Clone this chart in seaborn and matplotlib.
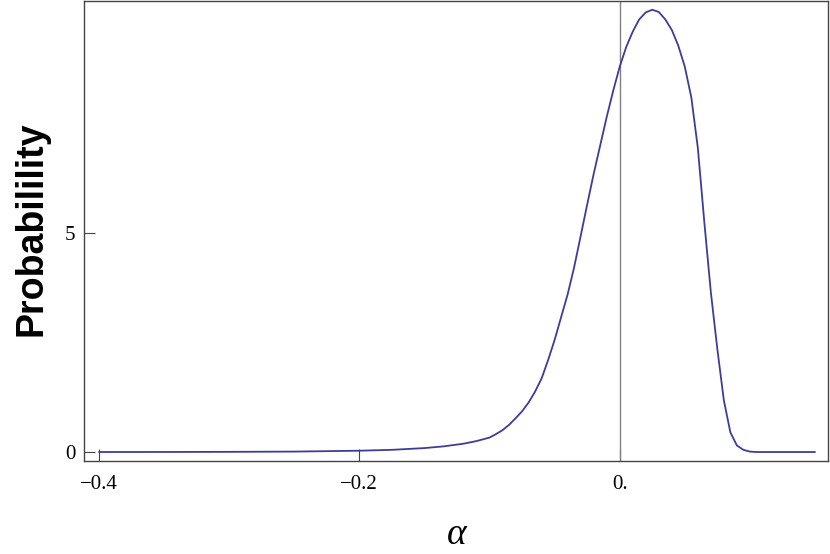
# Probability curve over alpha

import seaborn as sns
import matplotlib.pyplot as plt
import pandas as pd

alpha = [-0.40, -0.35, -0.30, -0.25, -0.20, -0.175, -0.15, -0.135, -0.12, -0.11,
         -0.10, -0.095, -0.09, -0.085, -0.08, -0.075, -0.07, -0.065, -0.06, -0.055,
         -0.05, -0.045, -0.04, -0.035, -0.03, -0.025, -0.02, -0.015, -0.01, -0.005,
         0.00, 0.005, 0.01, 0.015, 0.02, 0.025, 0.03, 0.035, 0.04, 0.045,
         0.05, 0.055, 0.06, 0.065, 0.07, 0.075, 0.08, 0.085, 0.09, 0.095,
         0.10, 0.105, 0.12, 0.15]
prob = [0.0, 0.001, 0.004, 0.01, 0.03, 0.05, 0.09, 0.13, 0.19, 0.25,
        0.33, 0.41, 0.50, 0.62, 0.77, 0.93, 1.13, 1.38, 1.68, 2.10,
        2.56, 3.08, 3.60, 4.22, 4.93, 5.65, 6.35, 7.00, 7.65, 8.25,
        8.80, 9.25, 9.60, 9.88, 10.04, 10.10, 10.05, 9.88, 9.64, 9.28,
        8.80, 8.10, 6.95, 5.25, 3.65, 2.35, 1.18, 0.45, 0.15, 0.05,
        0.01, 0.0, 0.0, 0.0]

x_ticks = [-0.4, -0.2, 0.0]
x_tick_labels = ['\u22120.4', '\u22120.2', '0.']
y_ticks = [0, 5]
y_tick_labels = ['0', '5']

df = pd.DataFrame({'alpha': alpha, 'prob': prob})

sns.set_style('white')
plt.rcParams['font.family'] = ['Liberation Serif', 'DejaVu Serif']

fig = plt.figure(figsize=(8.3, 5.54), dpi=100)
ax = fig.add_axes([84 / 830, 1 - 461 / 554, 744 / 830, 460 / 554])

ax.axvline(0, color='#808080', lw=1.0, zorder=1)
sns.lineplot(data=df, x='alpha', y='prob', color='#3d3d99', lw=1.3, ax=ax, zorder=2)

ax.set_xlim(-0.4115, 0.16)
ax.set_ylim(-0.205, 10.3)
ax.set_xticks(x_ticks)
ax.set_xticklabels(x_tick_labels)
ax.set_yticks(y_ticks)
ax.set_yticklabels(y_tick_labels)
ax.tick_params(axis='x', bottom=True, direction='in', length=9, width=0.8,
               color='#444444', labelcolor='black', labelsize=15, pad=10)
ax.tick_params(axis='y', left=True, direction='in', length=8, width=0.8,
               color='#444444', labelcolor='black', labelsize=15, pad=6)

for s in ax.spines.values():
    s.set_color('#444444')
    s.set_linewidth(1.0)

ax.set_xlabel('\u03b1', fontsize=27, style='italic', family='Liberation Serif',
              color='black', va='center')
ax.xaxis.set_label_coords(0.501, -0.161)
ax.set_ylabel('Probabilility', fontsize=27, fontweight='bold', family='Liberation Sans',
              color='black', va='center')
ax.yaxis.set_label_coords(-0.0712, 0.504)

plt.savefig('out.png', dpi=100)
